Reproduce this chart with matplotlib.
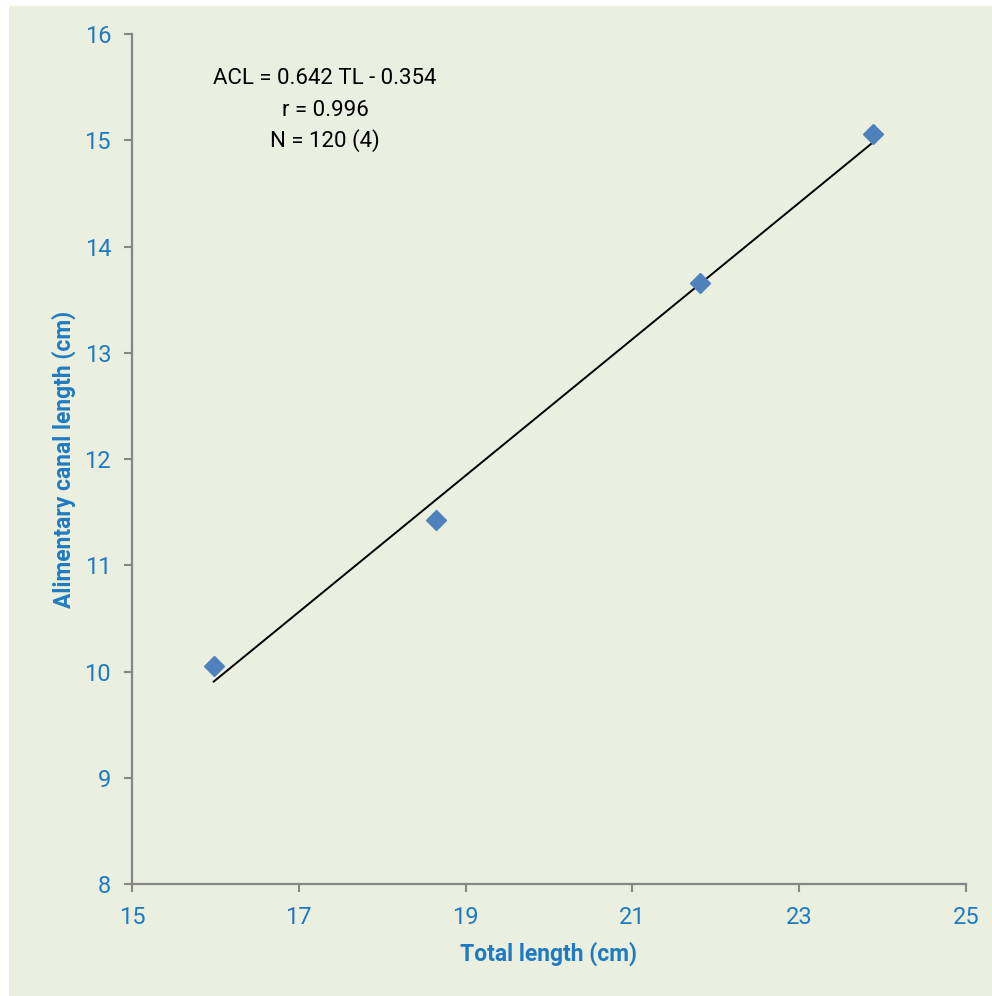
import matplotlib
matplotlib.use("Agg")
import matplotlib.pyplot as plt
import numpy as np
from matplotlib.patches import Rectangle

# Data
total_length = [15.98, 18.65, 21.81, 23.88]
canal_length = [10.05, 11.43, 13.66, 15.06]
slope, intercept = 0.642, -0.354
x_ticks = [15, 17, 19, 21, 23, 25]
y_ticks = [8, 9, 10, 11, 12, 13, 14, 15, 16]
eq_lines = ["ACL = 0.642 TL - 0.354", "r = 0.996", "N = 120 (4)"]

fam = ['Liberation Sans Narrow', 'Roboto', 'DejaVu Sans']
plt.rcParams['font.family'] = fam

bg = '#EBEFDF'
blue = '#1F7BC1'
gray = '#868686'

fig = plt.figure(figsize=(9.92, 9.96), dpi=100)
fig.patch.set_facecolor('white')
fig.patches.append(Rectangle((9/992, 0), 1, 1 - 6/996, transform=fig.transFigure,
                             facecolor=bg, edgecolor='none', zorder=-10))

ax = fig.add_axes([132/992, 1 - 884/996, (966-132)/992, (884-34)/996])
ax.set_facecolor(bg)
ax.patch.set_alpha(0)

xs = np.array([min(total_length), max(total_length)])
ax.plot(xs, slope * xs + intercept, color='black', lw=1.4, zorder=2)
ax.plot(total_length, canal_length, linestyle='none', marker='D', markersize=10,
        color='#4F81BD', markeredgecolor='#4F81BD', zorder=3)

ax.set_xlim(15, 25)
ax.set_ylim(8, 16)
ax.set_xticks(x_ticks)
ax.set_yticks(y_ticks)

for s in ['top', 'right']:
    ax.spines[s].set_visible(False)
for s in ['left', 'bottom']:
    ax.spines[s].set_color(gray)
    ax.spines[s].set_linewidth(1.6)

ax.tick_params(axis='both', direction='out', length=6, width=1.5, color=gray,
               labelcolor=blue, labelsize=17)
ax.tick_params(axis='x', pad=10)
ax.tick_params(axis='y', pad=9)

ax.set_xlabel('Total length (cm)', color=blue, fontsize=16.5, fontweight='bold', labelpad=9)
ax.set_ylabel('Alimentary canal length (cm)', color=blue, fontsize=16.5, fontweight='bold', labelpad=6)

ys = [78, 110, 141]
for t, y in zip(eq_lines, ys):
    fig.text(325/992, 1 - y/996, t, ha='center', va='center', fontsize=16, color='black')

fig.savefig('out.png', dpi=100, facecolor='white')
